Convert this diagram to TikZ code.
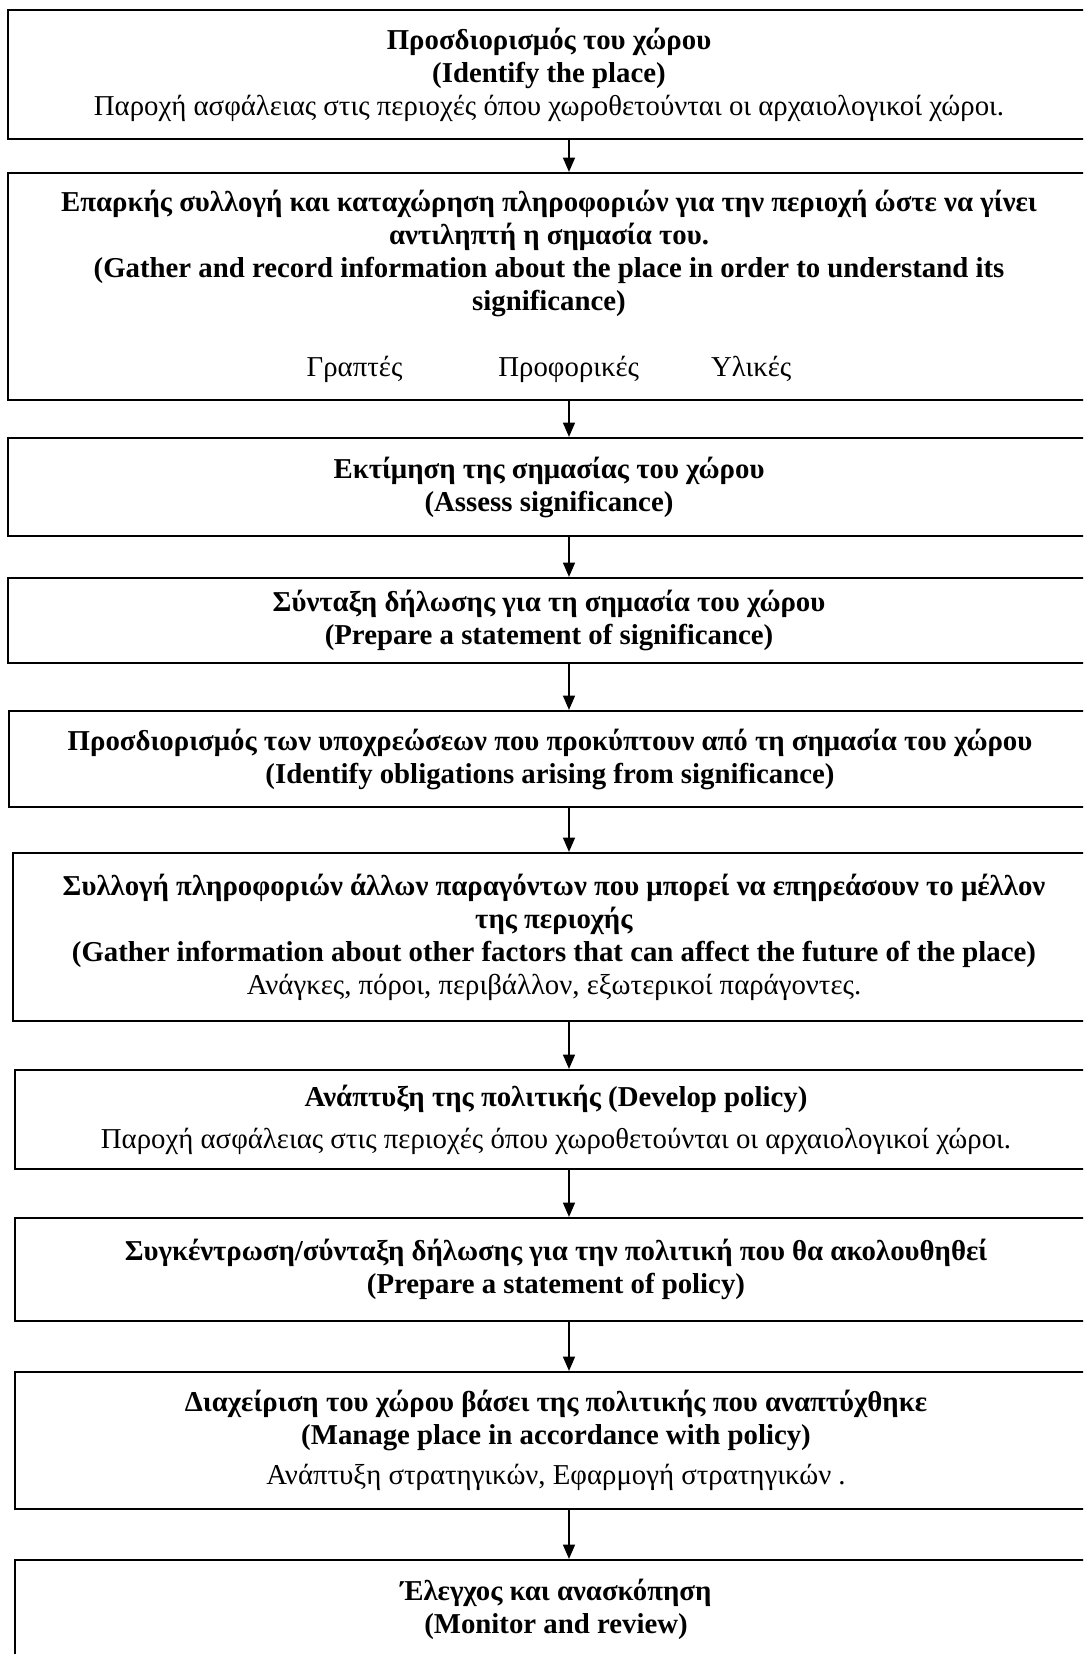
\documentclass[tikz,border=0pt]{standalone}
\usepackage{fontspec}
\setmainfont{Liberation Serif}
\usetikzlibrary{arrows.meta,positioning}
\newdimen\pxl
\pxl=0.41667pt
\tikzset{
  stage/.style={
    draw=black,
    line width=0.9pt,
    minimum width=1082\pxl,
    inner sep=0pt,
    align=center,
    font=\fontsize{12}{13.75}\selectfont
  },
  flow/.style={-{Triangle[length=6pt,width=5pt]}, line width=0.7pt}
}

\begin{document}
\begin{tikzpicture}[x=\pxl,y=-\pxl]
  \useasboundingbox (0,0) rectangle (1083,1654);
  \clip (0,0) rectangle (1083,1654);
  \coordinate (spine) at (569,0);

  \node[stage, minimum height=129\pxl] (place) at (549,74.5) {%
    \textbf{Προσδιορισμός του χώρου}\\
    \textbf{(Identify the place)}\\
    Παροχή ασφάλειας στις περιοχές όπου χωροθετούνται οι αρχαιολογικοί χώροι.};
  \node[stage, minimum height=227\pxl] (gather) at (549,286.5) {%
    \textbf{Επαρκής συλλογή και καταχώρηση πληροφοριών για την περιοχή ώστε να γίνει}\\
    \textbf{αντιληπτή η σημασία του.}\\
    \textbf{(Gather and record information about the place in order to understand its}\\
    \textbf{significance)}\\[13.75pt]
    Γραπτές\hspace{40pt}Προφορικές\hspace{30pt}Υλικές};
  \node[stage, minimum height=98\pxl] (assess) at (549,487) {%
    \textbf{Εκτίμηση της σημασίας του χώρου}\\
    \textbf{(Assess significance)}};
  \node[stage, minimum height=85\pxl] (statement) at (549,620.5) {%
    \textbf{Σύνταξη δήλωσης για τη σημασία του χώρου}\\
    \textbf{(Prepare a statement of significance)}};
  \node[stage, minimum height=96\pxl] (obligations) at (550,759) {%
    \textbf{Προσδιορισμός των υποχρεώσεων που προκύπτουν από τη σημασία του χώρου}\\
    \textbf{(Identify obligations arising from significance)}};
  \node[stage, minimum height=168\pxl] (factors) at (554,937) {%
    \textbf{Συλλογή πληροφοριών άλλων παραγόντων που μπορεί να επηρεάσουν το μέλλον}\\
    \textbf{της περιοχής}\\
    \textbf{(Gather information about other factors that can affect the future of the place)}\\
    Ανάγκες, πόροι, περιβάλλον, εξωτερικοί παράγοντες.};
  \node[stage, minimum height=99\pxl] (policy) at (556,1119.5) {%
    \textbf{Ανάπτυξη της πολιτικής (Develop policy)}\\[9\pxl]
    Παροχή ασφάλειας στις περιοχές όπου χωροθετούνται οι αρχαιολογικοί χώροι.};
  \node[stage, minimum height=103\pxl] (policystmt) at (556,1269.5) {%
    \textbf{Συγκέντρωση/σύνταξη δήλωσης για την πολιτική που θα ακολουθηθεί}\\
    \textbf{(Prepare a statement of policy)}};
  \node[stage, minimum height=137\pxl] (manage) at (556,1440.5) {%
    \textbf{Διαχείριση του χώρου βάσει της πολιτικής που αναπτύχθηκε}\\
    \textbf{(Manage place in accordance with policy)}\\[7\pxl]
    Ανάπτυξη στρατηγικών, Εφαρμογή στρατηγικών .};
  \node[stage, minimum height=98\pxl] (monitor) at (556,1609) {%
    \textbf{Έλεγχος και ανασκόπηση}\\
    \textbf{(Monitor and review)}};

  % arrows down the middle
  \draw[flow] (place.south -| spine) -- (gather.north -| spine);
  \draw[flow] (gather.south -| spine) -- (assess.north -| spine);
  \draw[flow] (assess.south -| spine) -- (statement.north -| spine);
  \draw[flow] (statement.south -| spine) -- (obligations.north -| spine);
  \draw[flow] (obligations.south -| spine) -- (factors.north -| spine);
  \draw[flow] (factors.south -| spine) -- (policy.north -| spine);
  \draw[flow] (policy.south -| spine) -- (policystmt.north -| spine);
  \draw[flow] (policystmt.south -| spine) -- (manage.north -| spine);
  \draw[flow] (manage.south -| spine) -- (monitor.north -| spine);
\end{tikzpicture}
\end{document}
